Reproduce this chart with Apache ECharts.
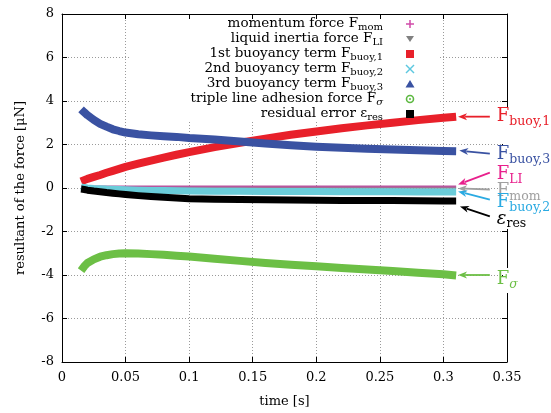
<!DOCTYPE html>
<html><head><meta charset="utf-8">
<script src="https://cdn.jsdelivr.net/npm/echarts@6/dist/echarts.min.js"></script>
<style>html,body{margin:0;padding:0;background:#fff}#c{width:551px;height:413px}</style>
</head><body><div id="c"></div>
<script>
const time   = [0.015,0.0175,0.02,0.025,0.03,0.035,0.04,0.045,0.05,0.06,0.07,0.08,0.09,0.10,0.12,0.14,0.16,0.18,0.20,0.22,0.24,0.26,0.28,0.30,0.31];
const Fmom   = [0.02,0.02,0.02,0.02,0.02,0.01,0.01,0.01,0.01,0.01,0.01,0.01,0.01,0.01,0.01,0.01,0.01,0.01,0.01,0.01,0.01,0.01,0.01,0.01,0.01];
const FLI    = [0.08,0.08,0.08,0.07,0.07,0.07,0.07,0.07,0.07,0.07,0.07,0.07,0.07,0.07,0.07,0.07,0.07,0.07,0.07,0.07,0.07,0.07,0.07,0.07,0.07];
const Fbuoy1 = [0.30,0.36,0.42,0.51,0.60,0.70,0.79,0.88,0.97,1.12,1.26,1.40,1.53,1.65,1.88,2.08,2.27,2.45,2.60,2.75,2.88,3.00,3.12,3.23,3.28];
const Fbuoy2 = [0.05,0.02,0.00,-0.02,-0.03,-0.05,-0.06,-0.07,-0.08,-0.10,-0.11,-0.12,-0.13,-0.14,-0.15,-0.15,-0.16,-0.16,-0.16,-0.17,-0.17,-0.17,-0.18,-0.18,-0.18];
const Fbuoy3 = [3.62,3.48,3.35,3.13,2.95,2.82,2.70,2.62,2.55,2.47,2.42,2.38,2.35,2.30,2.23,2.14,2.05,1.97,1.90,1.85,1.80,1.77,1.73,1.70,1.69];
const Fsigma = [-3.80,-3.60,-3.45,-3.28,-3.16,-3.09,-3.04,-3.01,-3.00,-3.01,-3.04,-3.07,-3.11,-3.15,-3.25,-3.35,-3.45,-3.53,-3.60,-3.68,-3.75,-3.82,-3.90,-3.97,-4.02];
const Eres   = [-0.05,-0.07,-0.10,-0.14,-0.17,-0.21,-0.24,-0.27,-0.30,-0.35,-0.39,-0.43,-0.46,-0.49,-0.52,-0.53,-0.54,-0.55,-0.56,-0.57,-0.57,-0.58,-0.59,-0.60,-0.60];
const xTicks = [0,0.05,0.1,0.15,0.2,0.25,0.3,0.35];
const yTicks = [-8,-6,-4,-2,0,2,4,6,8];

const FONT = 'DejaVu Serif';
const pair = (ys) => time.map((t,i)=>[t, ys[i]]);

const seriesDefs = [
  {name:'mom',   data:Fmom,   color:'#8a8a8a', width:2},
  {name:'LI',    data:FLI,    color:'#b8559e', width:2},
  {name:'buoy1', data:Fbuoy1, color:'#e8202a', width:8},
  {name:'buoy2', data:Fbuoy2, color:'#6accd9', width:7},
  {name:'buoy3', data:Fbuoy3, color:'#3a52a2', width:8},
  {name:'sigma', data:Fsigma, color:'#6cbf45', width:8},
  {name:'res',   data:Eres,   color:'#000000', width:7}
];

const axisCommon = {
  axisLine:{show:true, onZero:false, lineStyle:{color:'#000', width:1}},
  axisTick:{show:true, inside:true, length:5, lineStyle:{color:'#000'}}
};

const option = {
  animation:false,
  backgroundColor:'#fff',
  grid:{left:62, right:44, top:14, bottom:50},
  xAxis:[
    Object.assign({type:'value', min:xTicks[0], max:xTicks[xTicks.length-1], interval:0.05, position:'bottom',
      axisLabel:{fontFamily:FONT, fontSize:13, color:'#000', margin:9},
      splitLine:{show:true, lineStyle:{color:'#9a9a9a', type:[1,2]}},
      name:'time [s]', nameLocation:'middle', nameGap:33,
      nameTextStyle:{fontFamily:FONT, fontSize:13, color:'#000'}}, axisCommon),
    Object.assign({type:'value', min:xTicks[0], max:xTicks[xTicks.length-1], interval:0.05, position:'top',
      axisLabel:{show:false}, splitLine:{show:false}}, axisCommon)
  ],
  yAxis:[
    Object.assign({type:'value', min:yTicks[0], max:yTicks[yTicks.length-1], interval:2, position:'left',
      axisLabel:{fontFamily:FONT, fontSize:13, color:'#000', margin:8},
      splitLine:{show:true, lineStyle:{color:'#9a9a9a', type:[1,2]}},
      name:'resultant of the force [μN]', nameLocation:'middle', nameGap:35,
      nameTextStyle:{fontFamily:FONT, fontSize:13, color:'#000'}}, axisCommon),
    Object.assign({type:'value', min:yTicks[0], max:yTicks[yTicks.length-1], interval:2, position:'right',
      axisLabel:{show:false}, splitLine:{show:false}}, axisCommon)
  ],
  series: seriesDefs.map(s=>({
    type:'line', name:s.name, data:pair(s.data), xAxisIndex:0, yAxisIndex:0,
    showSymbol:false, symbol:'none', smooth:false,
    lineStyle:{color:s.color, width:s.width, join:'round'}, z:3
  }))
};

const chart = echarts.init(document.getElementById('c'), null, {renderer:'canvas'});
chart.setOption(option);

// legend (manual, right-aligned like gnuplot key)
const legendRows = [
  {main:'momentum force F', sub:'mom'},
  {main:'liquid inertia force F', sub:'LI'},
  {main:'1st buoyancy term F', sub:'buoy,1'},
  {main:'2nd buoyancy term F', sub:'buoy,2'},
  {main:'3rd buoyancy term F', sub:'buoy,3'},
  {main:'triple line adhesion force F', sub:'σ', subItalic:true},
  {main:'residual error ε', sub:'res'}
];
const g = [];
g.push({type:'rect', shape:{x:130, y:19, width:310, height:101}, style:{fill:'#fff'}, z:1, silent:true});
const textRight = 383, iconX = 410, row0 = 24, rowH = 15;
legendRows.forEach((r,i)=>{
  g.push({type:'text', z:10, silent:true, style:{
    text:'{a|'+r.main+'}{s|'+r.sub+'}', x:textRight, y:row0+i*rowH-1, align:'right', verticalAlign:'middle',
    rich:{a:{fontFamily:FONT, fontSize:13.5, fill:'#000'}, s:{fontFamily:FONT, fontSize:10, fill:'#000', padding:[9,0,0,0], fontStyle: r.subItalic?'italic':'normal'}}
  }});
});
const iy = i => row0+i*rowH;
// icons
g.push({type:'line', z:10, shape:{x1:iconX-4,y1:iy(0),x2:iconX+4,y2:iy(0)}, style:{stroke:'#d04aa8', lineWidth:1.5}});
g.push({type:'line', z:10, shape:{x1:iconX,y1:iy(0)-4,x2:iconX,y2:iy(0)+4}, style:{stroke:'#d04aa8', lineWidth:1.5}});
g.push({type:'polygon', z:10, shape:{points:[[iconX-4,iy(1)-3],[iconX+4,iy(1)-3],[iconX,iy(1)+3]]}, style:{fill:'#808080'}});
g.push({type:'rect', z:10, shape:{x:iconX-4,y:iy(2)-4,width:8,height:8}, style:{fill:'#e8202a'}});
g.push({type:'line', z:10, shape:{x1:iconX-4,y1:iy(3)-4,x2:iconX+4,y2:iy(3)+4}, style:{stroke:'#5cc8e0', lineWidth:1.5}});
g.push({type:'line', z:10, shape:{x1:iconX-4,y1:iy(3)+4,x2:iconX+4,y2:iy(3)-4}, style:{stroke:'#5cc8e0', lineWidth:1.5}});
g.push({type:'polygon', z:10, shape:{points:[[iconX-4.5,iy(4)+3.5],[iconX+4.5,iy(4)+3.5],[iconX,iy(4)-4]]}, style:{fill:'#3a52a2'}});
g.push({type:'circle', z:10, shape:{cx:iconX,cy:iy(5),r:3.5}, style:{fill:'none', stroke:'#5cb840', lineWidth:1.6}});
g.push({type:'circle', z:10, shape:{cx:iconX,cy:iy(5),r:1}, style:{fill:'#5cb840'}});
g.push({type:'rect', z:10, shape:{x:iconX-4,y:iy(6)-4,width:8,height:8}, style:{fill:'#000'}});

// white gaps in the right border behind the annotation labels (as in the reference)
g.push({type:'rect', z:11, silent:true, shape:{x:503, y:107, width:8, height:122}, style:{fill:'#fff'}});
g.push({type:'rect', z:11, silent:true, shape:{x:503, y:268, width:8, height:25}, style:{fill:'#fff'}});

// annotations with arrows (data coordinates)
const ann = [
  {main:'F', sub:'buoy,1', color:'#e8202a', from:[0.3365,3.28], to:[0.3115,3.28], label:[0.342,3.28]},
  {main:'F', sub:'buoy,3', color:'#3a52a2', from:[0.3365,1.58], to:[0.3125,1.72], label:[0.342,1.54]},
  {main:'F', sub:'LI', color:'#e8208c', from:[0.3365,0.71], to:[0.3115,0.16], label:[0.342,0.62]},
  {main:'F', sub:'mom', color:'#a0a0a0', from:[0.3365,-0.07], to:[0.3115,-0.02], label:[0.342,-0.16]},
  {main:'F', sub:'buoy,2', color:'#2aaae2', from:[0.3365,-0.53], to:[0.3115,-0.16], label:[0.342,-0.67]},
  {main:'ε', sub:'res', color:'#000', from:[0.3365,-1.30], to:[0.313,-0.85], label:[0.342,-1.42], italicMain:true},
  {main:'F', sub:'σ', color:'#6cbf45', from:[0.3365,-4.00], to:[0.3115,-4.00], label:[0.342,-4.22], italicSub:true}
];
const P = v => chart.convertToPixel({xAxisIndex:0, yAxisIndex:0}, v);
ann.forEach(a=>{
  const f = P(a.from), t = P(a.to), l = P(a.label);
  const dx = t[0]-f[0], dy = t[1]-f[1], len = Math.hypot(dx,dy), ux = dx/len, uy = dy/len;
  const hl = 9, hw = 3.5;
  const bx = t[0]-ux*hl, by = t[1]-uy*hl;
  g.push({type:'line', z:12, silent:true, shape:{x1:f[0],y1:f[1],x2:bx+ux*2,y2:by+uy*2}, style:{stroke:a.color, lineWidth:1.8}});
  g.push({type:'polygon', z:12, silent:true, shape:{points:[[t[0],t[1]],[bx-uy*hw,by+ux*hw],[bx+ux*2.5,by+uy*2.5],[bx+uy*hw,by-ux*hw]]}, style:{fill:a.color}});
  g.push({type:'text', z:12, silent:true, style:{
    text:'{a|'+a.main+'}{s|'+a.sub+'}', x:l[0], y:l[1], align:'left', verticalAlign:'middle',
    rich:{a:{fontFamily:FONT, fontSize:18, fill:a.color, fontStyle:a.italicMain?'italic':'normal'},
          s:{fontFamily:FONT, fontSize:12.5, fill:a.color, padding:[10,0,0,0], fontStyle:a.italicSub?'italic':'normal'}}
  }});
});
chart.setOption({graphic:{elements:g}});
</script>
</body></html>
